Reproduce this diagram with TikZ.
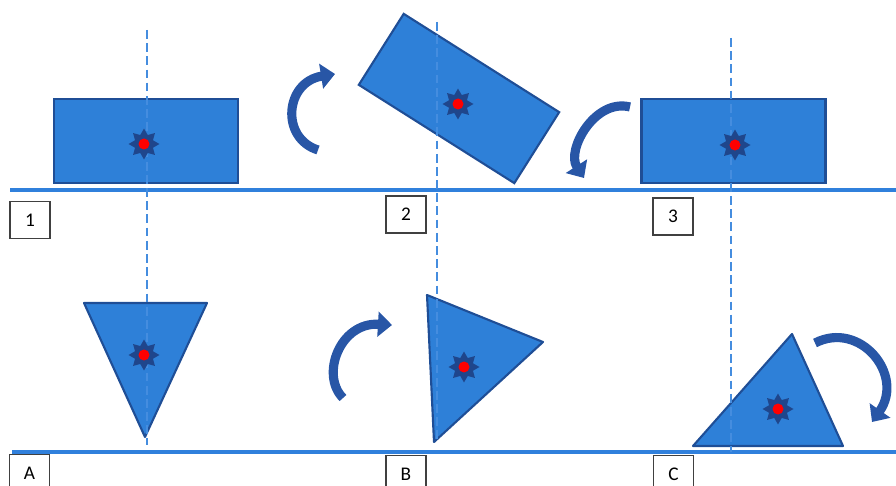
\documentclass[tikz,border=0pt]{standalone}
\usepackage{fontspec}
\setmainfont{Carlito}
\usetikzlibrary{shapes.geometric, arrows.meta}
\definecolor{shapeblue}{RGB}{46,128,216}
\definecolor{edgeblue}{RGB}{31,78,150}
\definecolor{lineblue}{RGB}{48,128,220}
\definecolor{arrowblue}{RGB}{40,86,166}
\definecolor{starblue}{RGB}{31,70,140}

\begin{document}
\begin{tikzpicture}[x=0.02cm, y=-0.02cm,
    block/.style={draw=edgeblue, fill=shapeblue, line width=1.2pt, minimum width=3.68cm, minimum height=1.68cm, inner sep=0pt},
    tri/.style={draw=edgeblue, fill=shapeblue, line width=1.2pt, line join=round},
    floor/.style={lineblue, line width=2.8pt},
    axisline/.style={lineblue!90!white, line width=1.4pt, dash pattern=on 5pt off 2.5pt},
    pivot/.style={star, star points=8, star point ratio=1.6, fill=starblue, minimum size=0.62cm, inner sep=0pt},
    dot/.style={circle, fill=red, minimum size=0.22cm, inner sep=0pt},
    tag/.style={draw=black!75, line width=0.6pt, fill=white, minimum width=0.8cm, minimum height=0.74cm, font=\fontsize{11}{13}\selectfont},
    turn/.style={arrowblue, line width=5.2pt, -{Triangle[width=14pt, length=8pt]}}]
    \useasboundingbox (0,0) rectangle (896,486);

    % ground lines
    \draw[floor] (10,190) -- (896,190);
    \draw[floor] (12,452) -- (896,452);

    % top row: the box tipping over
    \node[block] (box1) at (146,141) {};
    \node[block, rotate=-32.3] (box2) at (459,98.5) {};
    \node[block] (box3) at (733.5,141) {};

    % bottom row: the triangle
    \coordinate (a1) at (84,303); \coordinate (a2) at (207,303); \coordinate (a3) at (145,437);
    \coordinate (b1) at (427,295); \coordinate (b2) at (543,342); \coordinate (b3) at (434,442);
    \coordinate (c1) at (792,334); \coordinate (c2) at (843,446); \coordinate (c3) at (693,446);
    \draw[tri] (a1) -- (a2) -- (a3) -- cycle;
    \draw[tri] (b1) -- (b2) -- (b3) -- cycle;
    \draw[tri] (c1) -- (c2) -- (c3) -- cycle;

    % plumb lines
    \coordinate (axis1top) at (147,30);  \coordinate (axis1bot) at (147,445);
    \coordinate (axis2top) at (437,22);  \coordinate (axis2bot) at (437,442);
    \coordinate (axis3top) at (731,38);  \coordinate (axis3bot) at (731,452);
    \draw[axisline] (axis1top) -- (axis1bot);
    \draw[axisline] (axis2top) -- (axis2bot);
    \draw[axisline] (axis3top) -- (axis3bot);

    % centres of gravity
    \node[pivot] (pin1) at (144,144) {}; \node[dot] (red1) at (pin1) {};
    \node[pivot] (pin2) at (458,104) {}; \node[dot] (red2) at (pin2) {};
    \node[pivot] (pin3) at (735,145) {}; \node[dot] (red3) at (pin3) {};
    \node[pivot] (pinA) at (144,355) {}; \node[dot] (redA) at (pinA) {};
    \node[pivot] (pinB) at (464,367) {}; \node[dot] (redB) at (pinB) {};
    \node[pivot] (pinC) at (778,409) {}; \node[dot] (redC) at (pinC) {};

    % rotation arrows
    \draw[turn] (318,150) .. controls (280,138) and (285,82) .. (335,74);
    \draw[turn] (630,107) .. controls (595,98) and (566,150) .. (584,178);
    \draw[turn] (343,398) .. controls (320,375) and (340,322) .. (392,325);
    \draw[turn] (815,343) .. controls (860,320) and (905,375) .. (872,422);

    % step labels
    \node[tag] (tag1) at (30,220) {1};
    \node[tag] (tag2) at (406,214.5) {2};
    \node[tag] (tag3) at (673,216.5) {3};
    \node[tag] (tagA) at (29.5,473) {A};
    \node[tag] (tagB) at (406,474) {B};
    \node[tag] (tagC) at (673.5,474) {C};
\end{tikzpicture}
\end{document}
